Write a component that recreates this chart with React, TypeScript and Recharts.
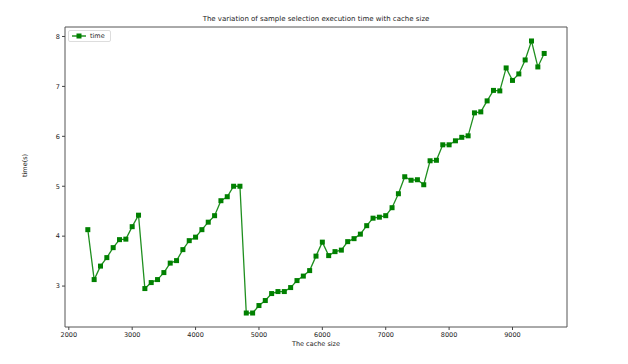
import { LineChart, Line, XAxis, YAxis, ReferenceArea } from 'recharts'

const cacheSizes = [
  2300, 2400, 2500, 2600, 2700, 2800, 2900, 3000, 3100, 3200, 3300, 3400, 3500, 3600, 3700,
  3800, 3900, 4000, 4100, 4200, 4300, 4400, 4500, 4600, 4700, 4800, 4900, 5000, 5100, 5200,
  5300, 5400, 5500, 5600, 5700, 5800, 5900, 6000, 6100, 6200, 6300, 6400, 6500, 6600, 6700,
  6800, 6900, 7000, 7100, 7200, 7300, 7400, 7500, 7600, 7700, 7800, 7900, 8000, 8100, 8200,
  8300, 8400, 8500, 8600, 8700, 8800, 8900, 9000, 9100, 9200, 9300, 9400, 9500,
]

const times = [
  4.13, 3.13, 3.4, 3.57, 3.77, 3.93, 3.94, 4.19, 4.42, 2.95, 3.07, 3.13, 3.27, 3.46, 3.51,
  3.73, 3.91, 3.98, 4.13, 4.28, 4.41, 4.71, 4.79, 5.0, 5.0, 2.46, 2.46, 2.61, 2.71, 2.85,
  2.89, 2.89, 2.97, 3.11, 3.2, 3.31, 3.6, 3.88, 3.61, 3.69, 3.72, 3.89, 3.95, 4.04, 4.21,
  4.36, 4.38, 4.41, 4.57, 4.85, 5.19, 5.12, 5.13, 5.03, 5.51, 5.52, 5.83, 5.83, 5.91, 5.98,
  6.01, 6.47, 6.49, 6.71, 6.92, 6.91, 7.37, 7.12, 7.25, 7.53, 7.91, 7.39, 7.66,
]

const xTicks = [2000, 3000, 4000, 5000, 6000, 7000, 8000, 9000]
const yTicks = [3, 4, 5, 6, 7, 8]

const data = cacheSizes.map((c, i) => ({ cache: c, time: times[i] }))

const X_DOMAIN = [1940, 9860]
const Y_DOMAIN = [2.18, 8.19]
const font = 'DejaVu Sans'
const green = '#008000'

const SquareDot = (props: any) => {
  const { cx, cy } = props
  if (cx == null || cy == null) return null
  return <rect x={cx - 2.5} y={cy - 2.5} width={5} height={5} fill={green} />
}

export default function App() {
  return (
    <div style={{ position: 'absolute', left: 0, top: 0, width: 628, height: 364, background: '#fff' }}>
      <div
        style={{
          position: 'absolute',
          left: 65,
          width: 502,
          top: 15,
          textAlign: 'center',
          fontFamily: font,
          fontSize: 7,
          color: '#222',
        }}
      >
        The variation of sample selection execution time with cache size
      </div>
      <LineChart
        width={628}
        height={364}
        data={data}
        margin={{ top: 27, right: 61, bottom: 0, left: 0 }}
      >
        <XAxis
          dataKey="cache"
          type="number"
          domain={X_DOMAIN}
          ticks={xTicks}
          allowDataOverflow
          height={37}
          tick={{ fill: '#222', fontSize: 6.5, fontFamily: font }}
          tickLine={{ stroke: '#444' }}
          tickSize={3}
          axisLine={false}
          label={{ value: 'The cache size', position: 'insideBottom', offset: 18, fill: '#222', fontSize: 6.5, fontFamily: font }}
        />
        <YAxis
          type="number"
          domain={Y_DOMAIN}
          ticks={yTicks}
          allowDataOverflow
          width={65}
          tick={{ fill: '#222', fontSize: 6.5, fontFamily: font }}
          tickLine={{ stroke: '#444' }}
          tickSize={3}
          axisLine={false}
          label={{ value: 'time(s)', angle: -90, position: 'insideLeft', offset: 25, fill: '#222', fontSize: 6.5, fontFamily: font }}
        />
        <ReferenceArea
          x1={X_DOMAIN[0]}
          x2={X_DOMAIN[1]}
          y1={Y_DOMAIN[0]}
          y2={Y_DOMAIN[1]}
          fill="none"
          stroke="#555"
          strokeWidth={1}
        />
        <Line
          dataKey="time"
          name="time"
          stroke="#1f8f1f"
          strokeWidth={1.3}
          dot={<SquareDot />}
          activeDot={false}
          isAnimationActive={false}
        />
      </LineChart>
      <div
        style={{
          position: 'absolute',
          left: 68,
          top: 30,
          border: '1px solid #ddd',
          borderRadius: 2,
          background: '#fff',
          padding: '1px 5px 1px 3px',
          display: 'flex',
          alignItems: 'center',
          gap: 4,
          fontFamily: font,
          fontSize: 6.5,
          color: '#222',
        }}
      >
        <svg width={14} height={8}>
          <line x1={0} y1={4} x2={14} y2={4} stroke={green} strokeWidth={1.3} />
          <rect x={4.5} y={1.5} width={5} height={5} fill={green} />
        </svg>
        <span>time</span>
      </div>
    </div>
  )
}
